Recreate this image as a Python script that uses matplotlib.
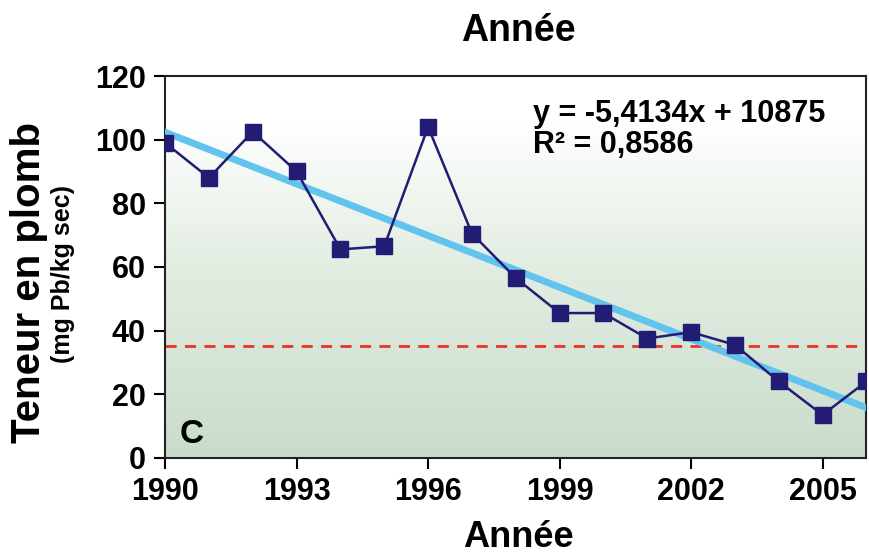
import numpy as np
import matplotlib
matplotlib.use('Agg')
import matplotlib.pyplot as plt
from matplotlib.colors import LinearSegmentedColormap

# données
annees = [1990, 1991, 1992, 1993, 1994, 1995, 1996, 1997, 1998,
          1999, 2000, 2001, 2002, 2003, 2004, 2005, 2006]
teneur = [99, 88, 102.5, 90, 65.5, 66.5, 104, 70.5, 56.5,
          45.5, 45.5, 37.5, 39.5, 35.5, 24, 13.5, 24]
pente = -5.4134
ordonnee = 10875
seuil = 35
xticks = [1990, 1993, 1996, 1999, 2002, 2005]
yticks = [0, 20, 40, 60, 80, 100, 120]

plt.rcParams['font.family'] = ['Liberation Sans', 'DejaVu Sans']
plt.rcParams['font.weight'] = 'bold'

fig = plt.figure(figsize=(8.69, 5.59), dpi=100)
ax = fig.add_axes([0.190, 0.181, 0.807, 0.683])

# fond en dégradé
cmap = LinearSegmentedColormap.from_list('fond', [(0, '#c9dccb'), (0.5, '#e2ede2'),
                                                 (0.88, '#ffffff'), (1, '#ffffff')])
grad = np.linspace(0, 1, 256).reshape(-1, 1)
ax.imshow(grad, aspect='auto', cmap=cmap, origin='lower',
          extent=[0, 1, 0, 1], transform=ax.transAxes, zorder=0)

x = np.array(annees)
ax.axhline(seuil, color='#e8332a', lw=2, ls=(0, (4, 3)), zorder=2)
xt = np.array([1990, 2006])
ax.plot(xt, pente * xt + ordonnee, color='#62c3ec', lw=5, zorder=3)
ax.plot(x, teneur, color='#231c74', lw=1.8, marker='s', ms=11,
        markerfacecolor='#231c74', markeredgecolor='#231c74', zorder=4)

ax.set_xlim(1990, 2006)
ax.set_ylim(0, 120)
ax.set_xticks(xticks)
ax.set_yticks(yticks)
ax.tick_params(labelsize=22, length=8, width=1.5, direction='out', pad=6)
for s in ax.spines.values():
    s.set_linewidth(1.5)
    s.set_color('#222222')

ax.text(0.525, 0.94, 'y = -5,4134x + 10875\nR² = 0,8586', transform=ax.transAxes,
        fontsize=22, fontweight='bold', va='top', ha='left', linespacing=1.05)
ax.text(0.02, 0.04, 'C', transform=ax.transAxes, fontsize=24, fontweight='bold')

fig.text(0.596, 0.945, 'Année', ha='center', va='center', fontsize=27, fontweight='bold')
fig.text(0.596, 0.038, 'Année', ha='center', va='center', fontsize=26, fontweight='bold')
fig.text(0.033, 0.495, 'Teneur en plomb', rotation=90, ha='center', va='center',
         fontsize=29, fontweight='bold')
fig.text(0.072, 0.51, '(mg Pb/kg sec)', rotation=90, ha='center', va='center',
         fontsize=18, fontweight='bold')

fig.savefig('out.png', dpi=100)
